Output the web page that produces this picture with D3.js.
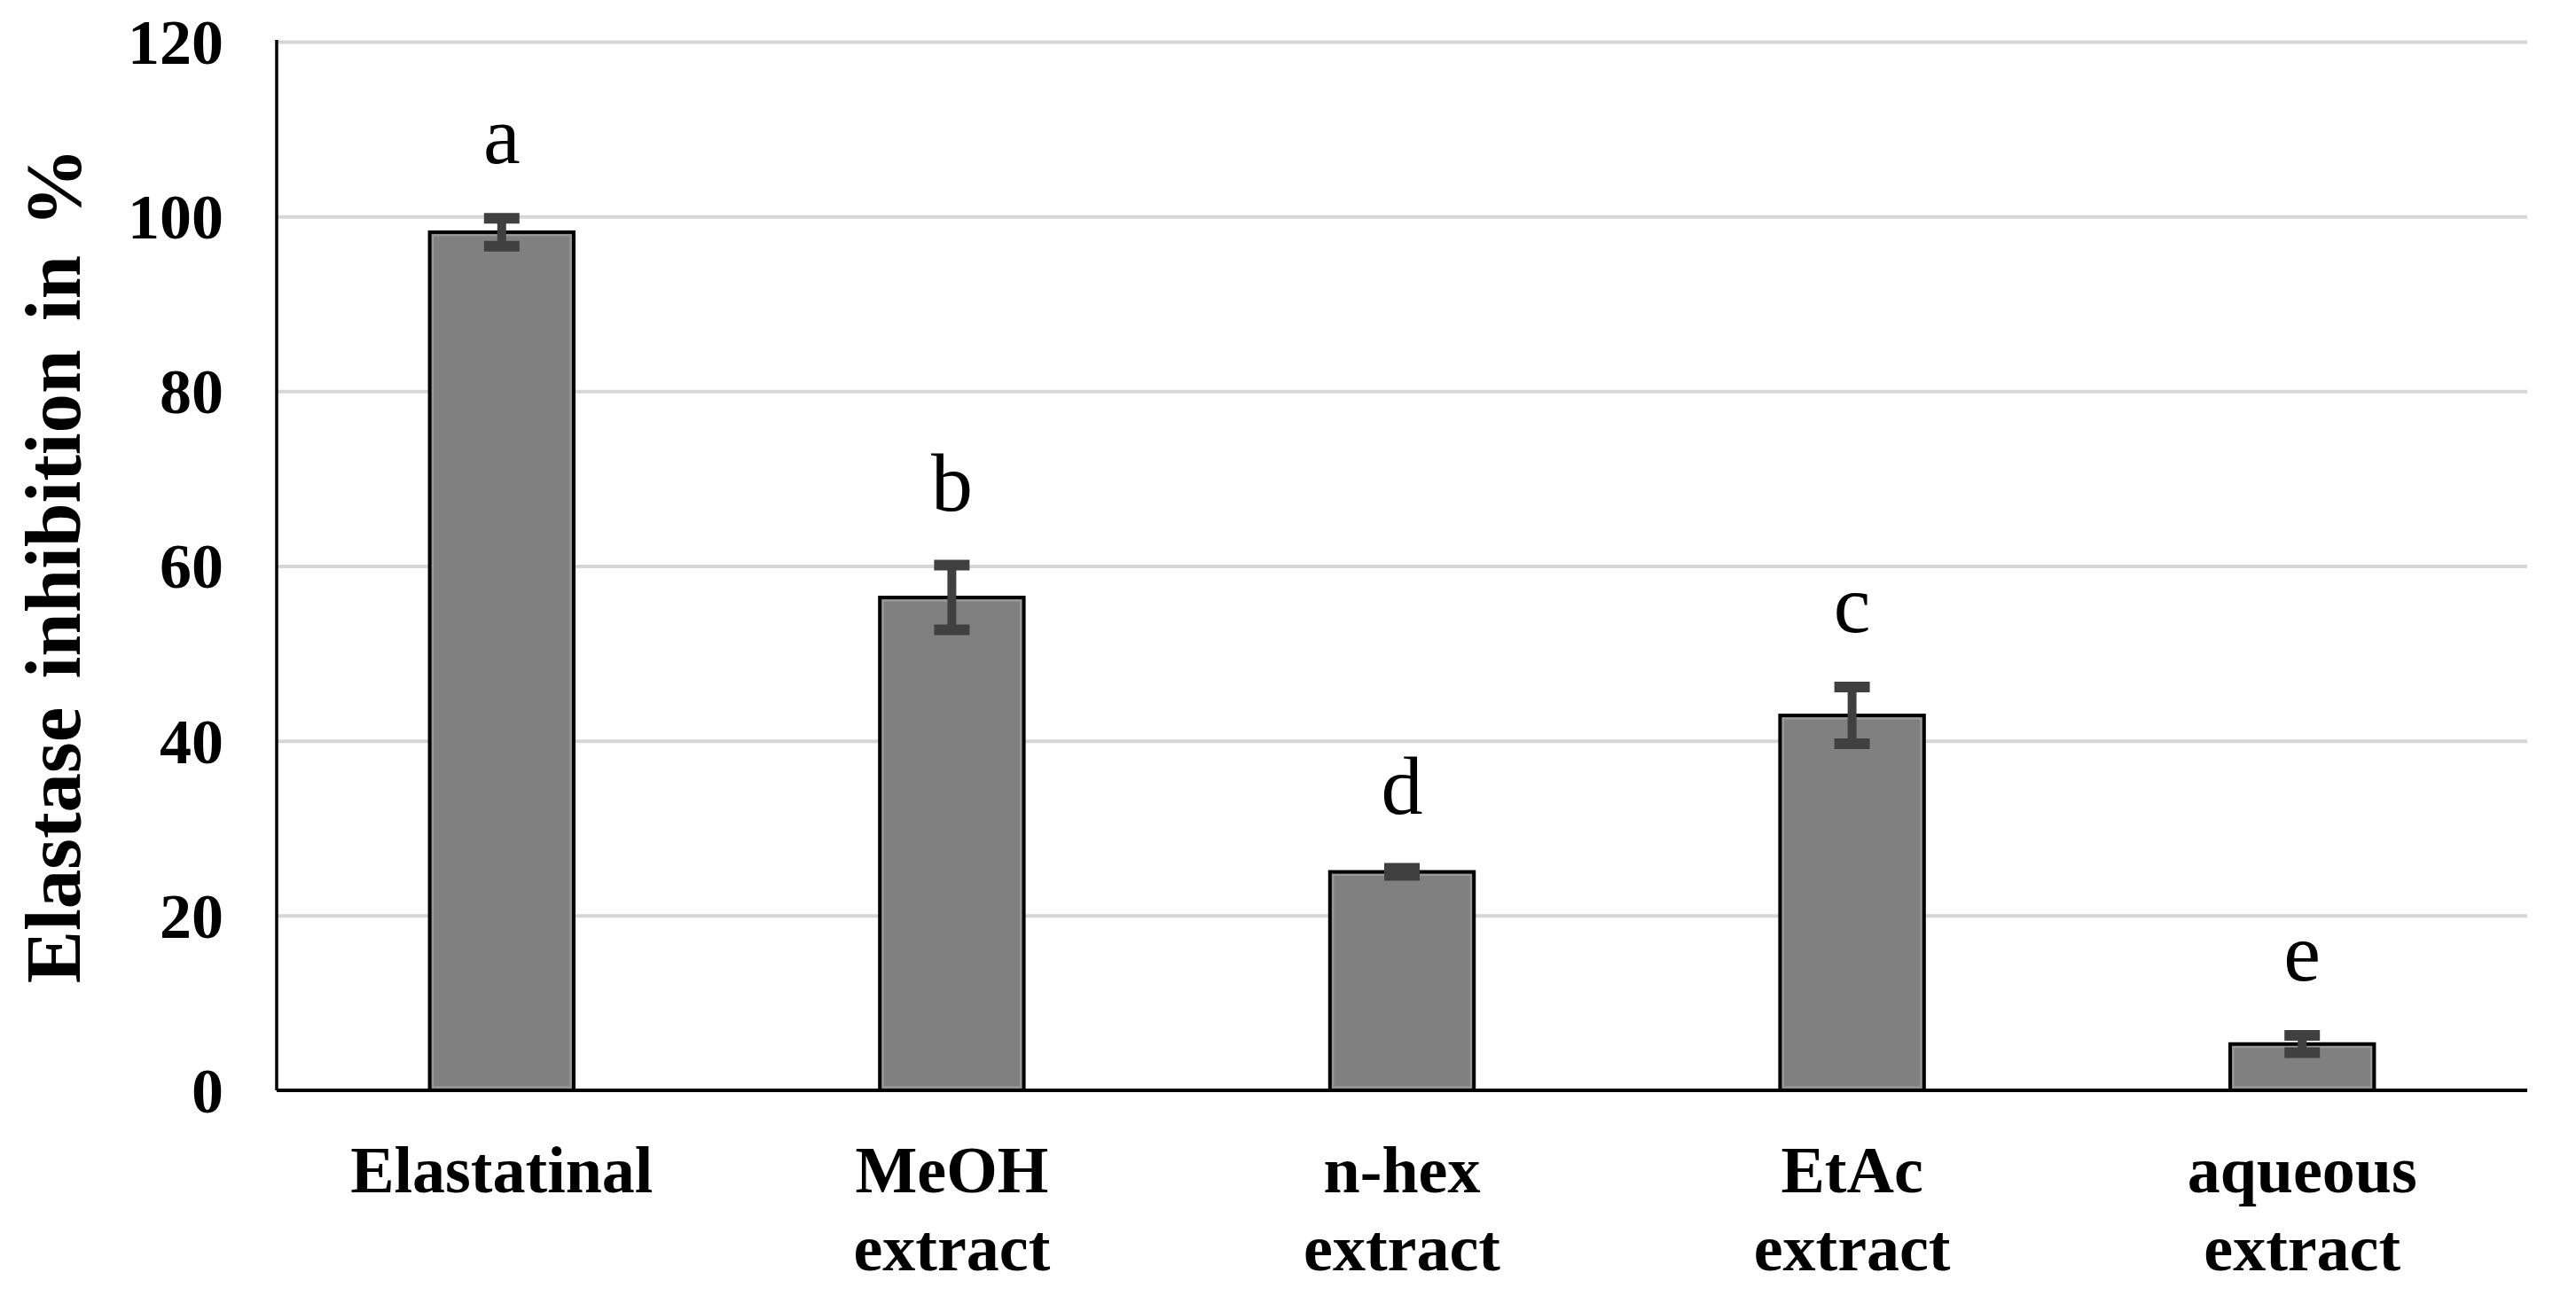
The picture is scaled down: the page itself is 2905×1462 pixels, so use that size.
<!DOCTYPE html>
<html>
<head>
<meta charset="utf-8">
<script src="https://cdn.jsdelivr.net/npm/d3@7"></script>
<style>
	body { margin: 0; background: #ffffff; }
	svg { display: block; }
</style>
</head>
<body>
<div id="chart"></div>
<script>
// chart data
var categories = ["Elastatinal", "MeOH\nextract", "n-hex\nextract", "EtAc\nextract", "aqueous\nextract"];
var inhibition = [98.2, 56.4, 25.0, 42.9, 5.3];
var errors = [1.6, 3.7, 0.4, 3.25, 1.0];
var letters = ["a", "b", "d", "c", "e"];
var y_ticks = [0, 20, 40, 60, 80, 100, 120];

var width = 2905;
var height = 1462;
var margin = {top: 47, right: 55, bottom: 232, left: 312};
var serif = "'Liberation Serif', 'Times New Roman', serif";

var svg = d3.select("#chart").append("svg")
	.attr("width", width)
	.attr("height", height);

//x scale, one band for each category
var x_scale = d3.scaleBand()
	.domain(categories)
	.range([margin.left, width - margin.right])
	.paddingInner(0.68)
	.paddingOuter(0.34);

//y scale, range from large to small
var y_scale = d3.scaleLinear()
	.domain([0, 120])
	.range([height - margin.bottom, margin.top]);

// grid lines (drawn with an axis whose ticks span the plot)
var grid = svg.append("g")
	.attr("class", "grid_lines")
	.attr("transform", "translate(" + margin.left + ",0)")
	.call(d3.axisLeft(y_scale)
		.tickValues(y_ticks.slice(1))
		.tickSize(-(width - margin.left - margin.right))
		.tickFormat(""));
grid.select(".domain").remove();
grid.selectAll(".tick line")
	.attr("stroke", "#d6d6d6")
	.attr("stroke-width", 4);

// y axis labels
var y_axis = svg.append("g")
	.attr("class", "y_axis")
	.attr("transform", "translate(" + margin.left + ",0)")
	.call(d3.axisLeft(y_scale).tickValues(y_ticks).tickSize(0).tickPadding(60));
y_axis.select(".domain").remove();
y_axis.selectAll("text")
	.attr("font-family", serif)
	.attr("font-weight", "bold")
	.attr("font-size", "72px")
	.attr("fill", "#000000")
	.attr("dy", "0.34em");

// bars
var bars = svg.append("g").attr("class", "bars");
bars.selectAll("rect.bar")
	.data(inhibition)
	.enter()
	.append("rect")
	.attr("class", "bar")
	.attr("x", function(d, i) { return x_scale(categories[i]); })
	.attr("y", function(d) { return y_scale(d); })
	.attr("width", x_scale.bandwidth())
	.attr("height", function(d) { return y_scale(0) - y_scale(d); })
	.attr("fill", "#808080")
	.attr("stroke", "#000000")
	.attr("stroke-width", 4);
// lighter inner edge like the original rendering
bars.selectAll("rect.inner")
	.data(inhibition)
	.enter()
	.append("rect")
	.attr("class", "inner")
	.attr("x", function(d, i) { return x_scale(categories[i]) + 3.5; })
	.attr("y", function(d) { return y_scale(d) + 3.5; })
	.attr("width", x_scale.bandwidth() - 7)
	.attr("height", function(d) { return Math.max(0, y_scale(0) - y_scale(d) - 7); })
	.attr("fill", "none")
	.attr("stroke", "#9a9a9a")
	.attr("stroke-width", 2);

// error bars
var err_group = svg.append("g").attr("class", "errors");
var cap = 20;
inhibition.forEach(function(d, i) {
	var cx = x_scale(categories[i]) + x_scale.bandwidth() / 2;
	var top = y_scale(d + errors[i]);
	var bottom = y_scale(d - errors[i]);
	err_group.append("line")
		.attr("x1", cx).attr("x2", cx)
		.attr("y1", top).attr("y2", bottom)
		.attr("stroke", "#404040").attr("stroke-width", 10);
	[top, bottom].forEach(function(yy) {
		err_group.append("line")
			.attr("x1", cx - cap).attr("x2", cx + cap)
			.attr("y1", yy).attr("y2", yy)
			.attr("stroke", "#404040").attr("stroke-width", 12);
	});
	// significance letter
	err_group.append("text")
		.attr("x", cx)
		.attr("y", top - 62)
		.attr("text-anchor", "middle")
		.attr("font-family", serif)
		.attr("font-size", "94px")
		.attr("fill", "#000000")
		.text(letters[i]);
});

// axis lines
svg.append("line")
	.attr("x1", margin.left).attr("x2", margin.left)
	.attr("y1", margin.top - 2).attr("y2", y_scale(0))
	.attr("stroke", "#000000").attr("stroke-width", 3.5);
svg.append("line")
	.attr("x1", margin.left).attr("x2", width - margin.right)
	.attr("y1", y_scale(0)).attr("y2", y_scale(0))
	.attr("stroke", "#000000").attr("stroke-width", 4);

// x axis labels (two lines)
var x_labels = svg.append("g").attr("class", "x_labels");
categories.forEach(function(c) {
	var t = x_labels.append("text")
		.attr("x", x_scale(c) + x_scale.bandwidth() / 2)
		.attr("y", 1345)
		.attr("text-anchor", "middle")
		.attr("font-family", serif)
		.attr("font-weight", "bold")
		.attr("font-size", "74px")
		.attr("fill", "#000000");
	c.split("\n").forEach(function(part, j) {
		t.append("tspan")
			.attr("x", x_scale(c) + x_scale.bandwidth() / 2)
			.attr("dy", j == 0 ? 0 : 88)
			.text(part);
	});
});

// y axis title
svg.append("text")
	.attr("transform", "translate(90," + 638 + ") rotate(-90)")
	.attr("text-anchor", "middle")
	.attr("font-family", serif)
	.attr("font-weight", "bold")
	.attr("font-size", "89px")
	.attr("fill", "#000000")
	.attr("word-spacing", "10px")
	.text("Elastase inhibition in %");
</script>
</body>
</html>
